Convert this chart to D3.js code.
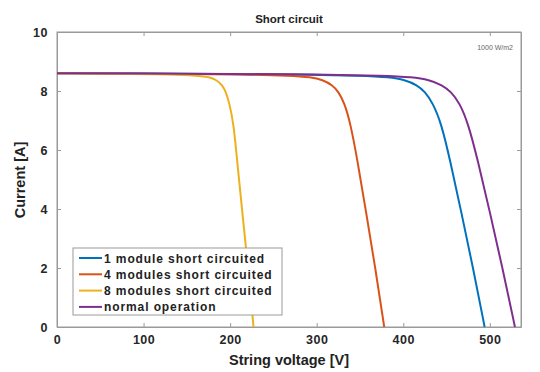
<!DOCTYPE html>
<html><head><meta charset="utf-8">
<script src="https://cdn.jsdelivr.net/npm/d3@7"></script>
<style>
html,body{margin:0;padding:0;background:#fff;}
svg text{font-family:"Liberation Sans",Arial,sans-serif;}
</style></head>
<body><svg id="c" width="540" height="372"></svg>
<script>
// ---- data ----
const seriesNames = ["1 module short circuited","4 modules short circuited","8 modules short circuited","normal operation"];
const seriesColors = ["#0072BD","#D95319","#EDB120","#7E2F8E"];
const currentA = [8.60, 8.59, 8.58, 8.56, 8.52, 8.47, 8.38, 8.20, 7.98, 7.60, 6.90, 5.66, 3.90, 1.95, 0];
const voltage1 = [0, 93, 187, 280, 355, 383, 402, 416, 425, 434, 444, 454, 467, 481, 494];
const voltage4 = [0, 71, 143, 214, 271, 293, 307, 318, 325, 332, 339, 347, 357, 368, 378];
const voltage8 = [0, 43, 86, 129, 163, 176, 184, 191, 195, 199, 204, 208, 214, 221, 227];
const voltageN = [0, 100, 200, 300, 380, 410, 430, 445, 455, 465, 475, 486, 500, 515, 529];
const xTicks = [0, 100, 200, 300, 400, 500];
const yTicks = [0, 2, 4, 6, 8, 10];
const titleText = "Short circuit";
const xLabel = "String voltage [V]";
const yLabel = "Current [A]";
const irradiance = "1000 W/m2";

const voltages = [voltage1, voltage4, voltage8, voltageN];

const svg = d3.select("#c");
const L = 57, R = 521, T = 32, B = 327;
const x = d3.scaleLinear().domain([0, 536]).range([L, R]);
const y = d3.scaleLinear().domain([0, 10]).range([B, T]);

// plot box
svg.append("rect").attr("x", L).attr("y", T).attr("width", R - L).attr("height", B - T)
  .attr("fill", "#fff").attr("stroke", "#9a9a9a").attr("stroke-width", 1);

// axes
const xa = svg.append("g").attr("transform", `translate(0,${B})`)
  .call(d3.axisBottom(x).tickValues(xTicks).tickSizeInner(-4).tickSizeOuter(0).tickPadding(8));
const xa2 = svg.append("g").attr("transform", `translate(0,${T})`)
  .call(d3.axisTop(x).tickValues(xTicks).tickSizeInner(-4).tickSizeOuter(0).tickFormat(""));
const ya = svg.append("g").attr("transform", `translate(${L},0)`)
  .call(d3.axisLeft(y).tickValues(yTicks).tickSizeInner(-4).tickSizeOuter(0).tickPadding(9));
const ya2 = svg.append("g").attr("transform", `translate(${R},0)`)
  .call(d3.axisRight(y).tickValues(yTicks).tickSizeInner(-4).tickSizeOuter(0).tickFormat(""));
[xa, xa2, ya, ya2].forEach(g => {
  g.select(".domain").attr("stroke", "#9a9a9a");
  g.selectAll(".tick line").attr("stroke", "#9a9a9a");
  g.selectAll("text").attr("font-size", 12.5).attr("font-weight", "bold").attr("fill", "#262626")
    .attr("letter-spacing", 0.5);
});

// curves
const line = d3.line().x(d => x(d[0])).y(d => y(d[1])).curve(d3.curveBasis);
voltages.forEach((vs, i) => {
  const pts = vs.map((v, k) => [v, currentA[k]]);
  svg.append("path").attr("d", line(pts)).attr("fill", "none")
    .attr("stroke", seriesColors[i]).attr("stroke-width", 2);
});

// title & labels
svg.append("text").attr("x", 289).attr("y", 23).attr("text-anchor", "middle")
  .attr("font-size", 11.5).attr("font-weight", "bold").attr("fill", "#222").text(titleText);
svg.append("text").attr("x", 289).attr("y", 365).attr("text-anchor", "middle")
  .attr("font-size", 14.5).attr("font-weight", "bold").attr("fill", "#222").text(xLabel);
svg.append("text").attr("transform", "translate(25,180) rotate(-90)").attr("text-anchor", "middle")
  .attr("font-size", 14.5).attr("font-weight", "bold").attr("fill", "#222").text(yLabel);
svg.append("text").attr("x", 513).attr("y", 50).attr("text-anchor", "end")
  .attr("font-size", 7).attr("fill", "#666").text(irradiance);

// legend
const lg = svg.append("g");
lg.append("rect").attr("x", 73).attr("y", 248).attr("width", 209).attr("height", 67)
  .attr("fill", "#fff").attr("stroke", "#9a9a9a");
seriesNames.forEach((n, i) => {
  const yy = 258 + i * 16.3;
  lg.append("line").attr("x1", 79).attr("x2", 102).attr("y1", yy).attr("y2", yy)
    .attr("stroke", seriesColors[i]).attr("stroke-width", 2);
  lg.append("text").attr("x", 104).attr("y", yy + 4.5).attr("font-size", 12)
    .attr("font-weight", "bold").attr("fill", "#222").attr("letter-spacing", 0.9).text(n);
});
</script></body></html>
